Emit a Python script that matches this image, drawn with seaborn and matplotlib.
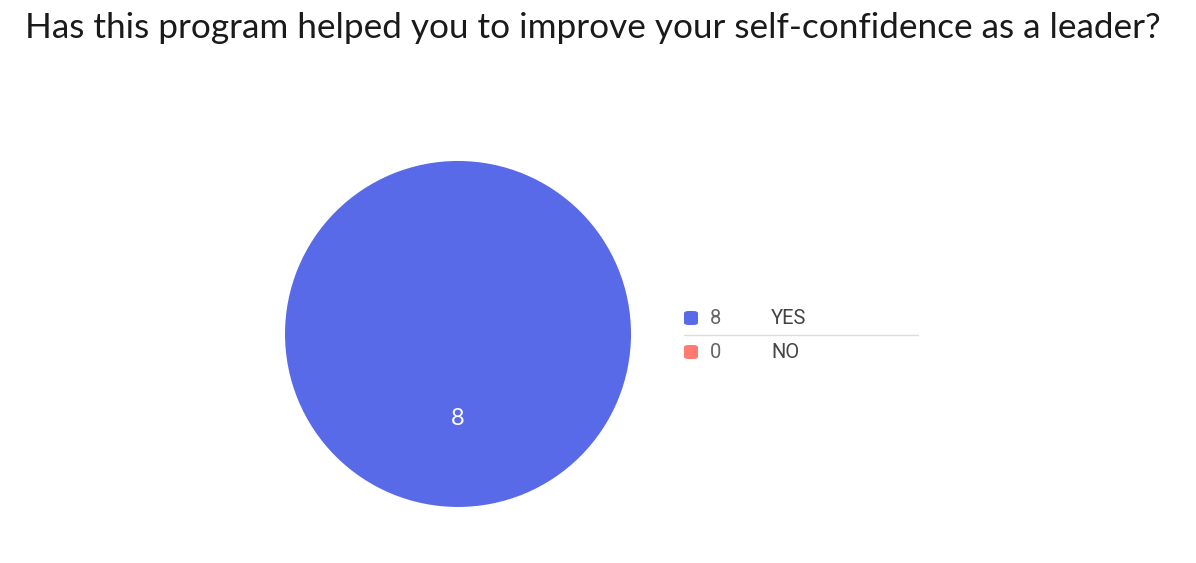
import matplotlib
matplotlib.use("Agg")
from matplotlib import pyplot as plt
from matplotlib.patches import FancyBboxPatch
import seaborn as sns

sns.set_theme(style="white")
plt.rcParams['font.family'] = ['Lato', 'DejaVu Sans']

# data
title = "Has this program helped you to improve your self-confidence as a leader?"
answers = ["YES", "NO"]
counts = [8, 0]
colors = ["#586AE8", "#FF7A70"]

fig = plt.figure(figsize=(11.96, 5.63), dpi=100)
fig.patch.set_facecolor("white")

fig.text(0.4955, 0.95, title, ha="center", va="center", fontsize=25.3, color="#1a1a1a")

# pie
ax = fig.add_axes([0.2383, 0.0995, 0.2893, 0.6146])
shown = [c for c in counts if c > 0]
shown_col = [colors[i] for i, c in enumerate(counts) if c > 0]
wedges, texts, autotexts = ax.pie(shown, colors=shown_col, startangle=90,
                                  autopct=lambda p: "%d" % round(p * sum(shown) / 100),
                                  pctdistance=0.49, radius=1.0,
                                  wedgeprops=dict(linewidth=0))
for t in autotexts:
    t.set_color("white")
    t.set_fontsize(17)
ax.set_xlim(-1, 1)
ax.set_ylim(-1, 1)
ax.set_aspect("equal")
ax.axis("off")

# legend, drawn by hand
W, H = 1196.0, 563.0
row_y = [318, 352]
for i, (lab, n, col) in enumerate(zip(answers, counts, colors)):
    y = 1 - row_y[i] / H
    sq = FancyBboxPatch((684 / W, y - 7 / H), 14 / W, 14 / H,
                        boxstyle="round,pad=0,rounding_size=0.004",
                        transform=fig.transFigure, facecolor=col, edgecolor="none")
    fig.patches.append(sq)
    fig.text(710 / W, y, str(n), ha="left", va="center", fontsize=14.5, color="#666666",
             family=["Roboto", "DejaVu Sans"])
    fig.text(771 / W, y, lab, ha="left", va="center", fontsize=14.5, color="#444444",
             family=["Roboto", "DejaVu Sans"])
    if i < len(answers) - 1:
        ly = 1 - (row_y[i] + 17) / H
        fig.add_artist(plt.Line2D([684 / W, 918 / W], [ly, ly], transform=fig.transFigure,
                                  color="#dddddd", linewidth=1))

fig.savefig("out.png", dpi=100, facecolor="white")
